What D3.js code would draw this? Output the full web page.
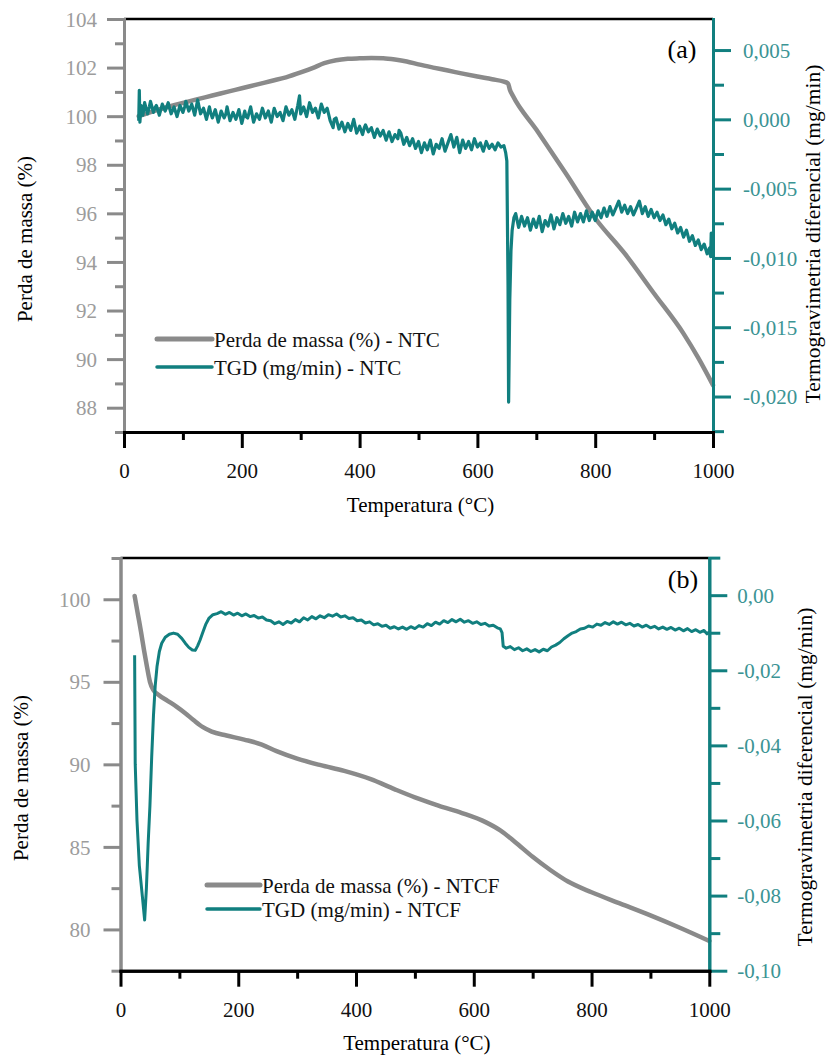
<!DOCTYPE html>
<html>
<head>
<meta charset="utf-8">
<script src="https://cdn.jsdelivr.net/npm/d3@7"></script>
<style>
  body { margin: 0; background: #fff; }
  svg { display: block; font-family: "Liberation Serif", "Times New Roman", serif; }
</style>
</head>
<body>
<svg id="chart" width="833" height="1061"></svg>
<script>
// ---- dados: [temperatura (°C), valor] ----
const massaNTC = [
  [25, 100.0], [40, 100.12], [60, 100.28], [80, 100.42], [100, 100.55], [125, 100.7],
  [150, 100.85], [175, 101.0], [200, 101.15], [225, 101.3], [250, 101.45], [275, 101.6],
  [300, 101.8], [320, 101.98], [340, 102.18], [360, 102.3], [380, 102.36], [400, 102.38],
  [420, 102.39], [440, 102.38], [460, 102.33], [480, 102.25], [500, 102.13], [525, 102.0],
  [550, 101.88], [575, 101.75], [600, 101.63], [625, 101.52], [645, 101.42], [652, 101.35],
  [655, 101.1], [660, 100.85], [700, 99.45], [750, 97.65], [800, 95.8], [850, 94.35],
  [900, 92.7], [950, 91.05], [975, 90.05], [1000, 88.93]
];

const tgdNTC = [
  [25, -0.0001], [26, 0.0021], [27, -0.0002], [29, 0.0010], [32, 0.0003], [35, 0.0012],
  [40, 0.0004], [43, 0.0009], [45, 0.0013], [50, 0.0005], [52, 0.0008], [55, 0.0010], [60, 0.0003], [65, 0.0011],
  [70, 0.0006], [75, 0.0012], [78, 0.0007], [80, 0.0004], [85, 0.0009], [90, 0.0002], [95, 0.0010],
  [100, 0.0005], [103, 0.0009], [105, 0.0013], [110, 0.0006], [115, 0.0011], [120, 0.0003], [125, 0.0014],
  [130, 0.0004], [135, 0.0008], [140, 0.0000], [145, 0.0009], [147, 0.0005], [150, 0.0001], [155, 0.0007],
  [160, -0.0002], [165, 0.0006], [170, 0.0001], [173, 0.0004], [175, 0.0009], [180, -0.0001], [185, 0.0005],
  [190, 0.0000], [195, 0.0007], [200, -0.0003], [205, 0.0006], [207, 0.0002], [210, 0.0001], [215, 0.0009],
  [220, -0.0002], [225, 0.0004], [230, 0.0000], [235, 0.0008], [240, 0.0001], [243, 0.0004], [245, 0.0006],
  [250, -0.0002], [255, 0.0008], [260, 0.0002], [265, 0.0005], [270, -0.0001], [275, 0.0009],
  [280, 0.0003], [285, 0.0007], [290, 0.0000], [295, 0.0010], [298, 0.0017], [300, 0.0004],
  [305, 0.0009], [310, 0.0002], [315, 0.0012], [320, 0.0005], [325, 0.0008], [330, 0.0001],
  [335, 0.0011], [340, 0.0005], [345, 0.0008], [350, -0.0001], [355, -0.0006], [357, 0.0000], [360, 0.0001],
  [365, -0.0007], [370, -0.0002], [375, -0.0009], [380, -0.0003], [385, -0.0008], [390, 0.0000],
  [395, -0.0010], [400, -0.0005], [405, -0.0011], [408, -0.0006], [410, -0.0004], [415, -0.0009], [420, -0.0006],
  [425, -0.0013], [430, -0.0007], [435, -0.0012], [440, -0.0008], [445, -0.0015], [450, -0.0009],
  [455, -0.0016], [460, -0.0011], [465, -0.0014], [467, -0.0008], [470, -0.0010], [475, -0.0018], [480, -0.0013],
  [485, -0.0019], [490, -0.0014], [495, -0.0021], [500, -0.0016], [505, -0.0024], [510, -0.0017],
  [515, -0.0022], [520, -0.0015], [525, -0.0025], [530, -0.0018], [535, -0.0021], [540, -0.0014],
  [545, -0.0023], [550, -0.0017], [555, -0.0011], [560, -0.0020], [565, -0.0013], [570, -0.0024],
  [575, -0.0015], [580, -0.0021], [585, -0.0016], [590, -0.0022], [595, -0.0014], [600, -0.0020],
  [605, -0.0017], [610, -0.0023], [615, -0.0016], [620, -0.0021], [625, -0.0018], [630, -0.0022],
  [635, -0.0017], [640, -0.0020], [645, -0.0019], [648, -0.0024], [650, -0.0030], [652, -0.0120],
  [653, -0.0204], [655, -0.0130], [657, -0.0095], [659, -0.0080], [662, -0.0071], [665, -0.0068],
  [670, -0.0078], [675, -0.0070], [680, -0.0077], [685, -0.0071], [690, -0.0080], [695, -0.0072],
  [700, -0.0078], [705, -0.0070], [710, -0.0081], [715, -0.0073], [720, -0.0077], [725, -0.0069],
  [730, -0.0079], [735, -0.0071], [740, -0.0076], [745, -0.0068], [750, -0.0075], [755, -0.0070],
  [760, -0.0077], [765, -0.0067], [770, -0.0074], [775, -0.0068], [780, -0.0074], [785, -0.0066],
  [790, -0.0073], [795, -0.0067], [800, -0.0073], [805, -0.0066], [810, -0.0071], [815, -0.0064],
  [820, -0.0070], [825, -0.0063], [830, -0.0069], [835, -0.0064], [840, -0.0059], [845, -0.0067],
  [850, -0.0062], [855, -0.0068], [860, -0.0063], [865, -0.0069], [870, -0.0064], [875, -0.0059],
  [880, -0.0068], [885, -0.0063], [890, -0.0070], [895, -0.0065], [900, -0.0071], [905, -0.0067],
  [910, -0.0073], [915, -0.0069], [920, -0.0076], [925, -0.0072], [930, -0.0079], [935, -0.0075],
  [940, -0.0082], [945, -0.0078], [950, -0.0085], [955, -0.0080], [960, -0.0088], [965, -0.0084],
  [970, -0.0091], [975, -0.0087], [980, -0.0094], [985, -0.0090], [990, -0.0097], [994, -0.0093],
  [996, -0.0099], [997, -0.0082], [999, -0.0089], [1000, -0.0100]
];

const massaNTCF = [
  [24, 100.2], [26, 99.8], [30, 99.0], [35, 98.0], [40, 96.9], [45, 95.9], [50, 95.0],
  [56, 94.5], [65, 94.2], [80, 93.85], [95, 93.5], [110, 93.1], [125, 92.65], [140, 92.25],
  [155, 91.98], [180, 91.75], [210, 91.5], [240, 91.2], [265, 90.8], [300, 90.35],
  [340, 89.95], [380, 89.6], [425, 89.1], [465, 88.5], [500, 88.0], [540, 87.5],
  [580, 87.05], [620, 86.5], [645, 86.0], [670, 85.3], [700, 84.4], [730, 83.6],
  [760, 82.9], [800, 82.25], [850, 81.55], [900, 80.85], [950, 80.1], [1000, 79.3]
];

const tgdNTCF = [
  [24, -0.0160], [25, -0.0450], [28, -0.0600], [32, -0.0720], [37, -0.0800], [41, -0.0865],
  [44, -0.0780], [47, -0.0660], [50, -0.0560], [53, -0.0430], [56, -0.0320], [59, -0.0240],
  [62, -0.0190], [66, -0.0150], [70, -0.0128], [76, -0.0112], [83, -0.0104], [90, -0.0101],
  [97, -0.0104], [104, -0.0115], [110, -0.0128], [116, -0.0139], [122, -0.0146], [127, -0.0147],
  [131, -0.0135], [135, -0.0120], [140, -0.0098], [145, -0.0077], [150, -0.0062], [157, -0.0052],
  [164, -0.0049], [171, -0.0044], [178, -0.0051], [185, -0.0046], [192, -0.0053], [199, -0.0048],
  [206, -0.0055], [213, -0.0050], [220, -0.0057], [227, -0.0054], [234, -0.0061], [241, -0.0058],
  [248, -0.0066], [255, -0.0068], [262, -0.0076], [269, -0.0071], [276, -0.0078], [283, -0.0070],
  [290, -0.0074], [297, -0.0065], [304, -0.0071], [311, -0.0060], [318, -0.0066], [325, -0.0057],
  [332, -0.0063], [339, -0.0055], [346, -0.0060], [353, -0.0052], [360, -0.0056], [367, -0.0050],
  [374, -0.0058], [381, -0.0055], [388, -0.0062], [395, -0.0060], [402, -0.0068], [409, -0.0066],
  [416, -0.0074], [423, -0.0071], [430, -0.0079], [437, -0.0076], [444, -0.0083], [451, -0.0080],
  [458, -0.0088], [465, -0.0084], [472, -0.0090], [479, -0.0085], [486, -0.0091], [493, -0.0084],
  [500, -0.0089], [507, -0.0081], [514, -0.0085], [521, -0.0076], [528, -0.0081], [535, -0.0072],
  [542, -0.0077], [549, -0.0068], [556, -0.0073], [563, -0.0065], [570, -0.0071], [577, -0.0064],
  [584, -0.0072], [591, -0.0068], [598, -0.0075], [605, -0.0071], [612, -0.0078], [619, -0.0075],
  [626, -0.0082], [633, -0.0080], [640, -0.0087], [645, -0.0090], [648, -0.0100], [650, -0.0136],
  [655, -0.0141], [662, -0.0137], [669, -0.0145], [676, -0.0140], [683, -0.0148], [690, -0.0143],
  [697, -0.0150], [704, -0.0145], [711, -0.0151], [718, -0.0144], [725, -0.0148], [732, -0.0138],
  [739, -0.0133], [746, -0.0126], [753, -0.0116], [760, -0.0108], [767, -0.0101], [774, -0.0097],
  [781, -0.0090], [788, -0.0088], [795, -0.0082], [802, -0.0085], [809, -0.0077], [816, -0.0080],
  [823, -0.0073], [830, -0.0078], [837, -0.0071], [844, -0.0077], [851, -0.0072], [858, -0.0079],
  [865, -0.0075], [872, -0.0082], [879, -0.0078], [886, -0.0085], [893, -0.0080], [900, -0.0087],
  [907, -0.0083], [914, -0.0090], [921, -0.0085], [928, -0.0091], [935, -0.0086], [942, -0.0093],
  [949, -0.0088], [956, -0.0095], [963, -0.0089], [970, -0.0097], [977, -0.0092], [984, -0.0099],
  [991, -0.0094], [996, -0.0103], [1000, -0.0098]
];

// ---- ticks ----
const tempTicks = [0, 200, 400, 600, 800, 1000];
const tempMinor = [100, 300, 500, 700, 900];
const massaTicksA = [88, 90, 92, 94, 96, 98, 100, 102, 104];
const massaMinorA = [87, 89, 91, 93, 95, 97, 99, 101, 103];
const tgdTicksA = [-0.020, -0.015, -0.010, -0.005, 0.000, 0.005];
const tgdMinorA = [-0.0225, -0.0175, -0.0125, -0.0075, -0.0025, 0.0025];
const massaTicksB = [80, 85, 90, 95, 100];
const massaMinorB = [77.5, 82.5, 87.5, 92.5, 97.5, 102.5];
const tgdTicksB = [-0.10, -0.08, -0.06, -0.04, -0.02, 0.00];
const tgdMinorB = [-0.09, -0.07, -0.05, -0.03, -0.01, 0.01];

const GRAY = '#8a8a8a';
const TEAL = '#117f7f';
const ptBR = d3.formatLocale({decimal: ',', thousands: '', grouping: [3], currency: ['', ''], minus: '-'});

const svg = d3.select('#chart');
svg.append('rect').attr('width', 833).attr('height', 1061).attr('fill', '#fff');

function drawPanel(p) {
  const x = d3.scaleLinear().domain([0, 1000]).range([p.left, p.right]);
  const yL = d3.scaleLinear().domain(p.massaDomain).range([p.bottom, p.top]);
  const yR = d3.scaleLinear().domain(p.tgdDomain).range([p.bottom, p.top]);
  const g = svg.append('g');

  // curvas
  g.append('path').datum(p.massa)
    .attr('d', d3.line().x(d => x(d[0])).y(d => yL(d[1])).curve(d3.curveMonotoneX))
    .attr('fill', 'none').attr('stroke', GRAY).attr('stroke-width', 4.5)
    .attr('stroke-linejoin', 'round').attr('stroke-linecap', 'round');
  g.append('path').datum(p.tgd)
    .attr('d', d3.line().x(d => x(d[0])).y(d => yR(d[1])))
    .attr('fill', 'none').attr('stroke', TEAL).attr('stroke-width', p.tgdWidth)
    .attr('stroke-linejoin', 'round');

  // moldura superior
  g.append('line').attr('x1', p.left).attr('x2', p.right).attr('y1', p.top).attr('y2', p.top)
    .attr('stroke', '#000').attr('stroke-width', 2.5);

  // eixo esquerdo (cinza)
  const left = g.append('g').attr('transform', `translate(${p.left},0)`);
  left.append('g').call(d3.axisLeft(yL).tickValues(p.massaMinor).tickSize(9).tickSizeOuter(0).tickFormat(''));
  left.append('g').call(d3.axisLeft(yL).tickValues(p.massaTicks).tickSize(17).tickSizeOuter(0)
    .tickPadding(p.leftPad).tickFormat(ptBR.format('d')));
  left.selectAll('path,line').attr('stroke', GRAY).attr('stroke-width', 3);
  left.selectAll('text').attr('fill', '#9c9c9c').style('font-size', '21px').attr('dy', '0.34em');

  // eixo direito (verde-azulado)
  const right = g.append('g').attr('transform', `translate(${p.right},0)`);
  right.append('g').call(d3.axisRight(yR).tickValues(p.tgdMinor).tickSize(11).tickSizeOuter(0).tickFormat(''));
  right.append('g').call(d3.axisRight(yR).tickValues(p.tgdTicks).tickSize(18).tickSizeOuter(0)
    .tickPadding(p.rightPad).tickFormat(ptBR.format(p.tgdFmt)));
  right.selectAll('path,line').attr('stroke', TEAL).attr('stroke-width', 3);
  right.selectAll('text').attr('fill', '#3b9494').style('font-size', '21px').attr('dy', '0.34em');

  // eixo inferior (preto)
  const bottom = g.append('g').attr('transform', `translate(0,${p.bottom})`);
  bottom.append('g').call(d3.axisBottom(x).tickValues(tempMinor).tickSize(8).tickSizeOuter(0).tickFormat(''));
  bottom.append('g').call(d3.axisBottom(x).tickValues(tempTicks).tickSize(16).tickSizeOuter(0)
    .tickPadding(15).tickFormat(ptBR.format('d')));
  bottom.selectAll('path,line').attr('stroke', '#000').attr('stroke-width', 3);
  bottom.selectAll('text').attr('fill', '#111').style('font-size', '21px');

  // o eixo do d3 põe sans-serif nos grupos: devolve a fonte serifada do svg
  g.selectAll('g').attr('font-family', null);
  g.selectAll('.domain').attr('stroke-linecap', 'square');

  // títulos
  g.append('text').attr('x', (p.left + p.right) / 2 + 2).attr('y', p.xTitleY)
    .attr('text-anchor', 'middle').style('font-size', '21px').text('Temperatura (°C)');
  g.append('text').attr('transform', `translate(${p.leftTitle[0]},${p.leftTitle[1]}) rotate(-90)`)
    .attr('text-anchor', 'middle').style('font-size', '21px').text('Perda de massa (%)');
  g.append('text').attr('transform', `translate(${p.rightTitle[0]},${p.rightTitle[1]}) rotate(-90)`)
    .attr('text-anchor', 'middle').style('font-size', '21.5px').text('Termogravimetria diferencial (mg/min)');
  g.append('text').attr('x', p.tag[0]).attr('y', p.tag[1]).attr('text-anchor', 'middle')
    .style('font-size', '26px').text(p.tagText);

  // legenda
  const leg = g.append('g');
  const items = [
    {name: p.names[0], color: GRAY, w: 5},
    {name: p.names[1], color: TEAL, w: 3.5}
  ];
  items.forEach((it, i) => {
    const y = p.legend.y + i * p.legend.dy;
    leg.append('line').attr('x1', p.legend.x1).attr('x2', p.legend.x2).attr('y1', y).attr('y2', y)
      .attr('stroke', it.color).attr('stroke-width', it.w).attr('stroke-linecap', 'round');
    leg.append('text').attr('x', p.legend.x2 + 2).attr('y', y + 8)
      .style('font-size', '21px').attr('fill', '#111').text(it.name);
  });
}

drawPanel({
  left: 124, right: 713, top: 19, bottom: 432,
  massaDomain: [87, 104], tgdDomain: [-0.02256, 0.00724],
  massa: massaNTC, tgd: tgdNTC, tgdWidth: 3.2,
  massaTicks: massaTicksA, massaMinor: massaMinorA, tgdTicks: tgdTicksA, tgdMinor: tgdMinorA,
  tgdFmt: '.3f', leftPad: 10, rightPad: 12,
  xTitleY: 512, leftTitle: [32, 239], rightTitle: [820, 234],
  tag: [682, 58], tagText: '(a)',
  legend: {x1: 157, x2: 212, y: 339, dy: 28},
  names: ['Perda de massa (%) - NTC', 'TGD (mg/min) - NTC']
});

drawPanel({
  left: 120.5, right: 709.3, top: 558, bottom: 970.7,
  massaDomain: [77.5, 102.5], tgdDomain: [-0.1, 0.0099],
  massa: massaNTCF, tgd: tgdNTCF, tgdWidth: 3,
  massaTicks: massaTicksB, massaMinor: massaMinorB, tgdTicks: tgdTicksB, tgdMinor: tgdMinorB,
  tgdFmt: '.2f', leftPad: 13, rightPad: 10,
  xTitleY: 1050, leftTitle: [28, 778], rightTitle: [812, 777],
  tag: [683, 588], tagText: '(b)',
  legend: {x1: 207, x2: 260, y: 885, dy: 24},
  names: ['Perda de massa (%) - NTCF', 'TGD (mg/min) - NTCF']
});
</script>
</body>
</html>
